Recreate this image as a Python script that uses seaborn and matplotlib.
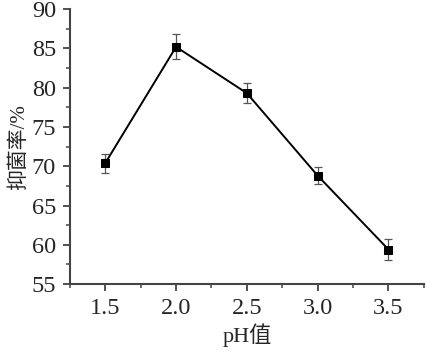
import matplotlib
matplotlib.use('Agg')
import matplotlib.pyplot as plt
import pandas as pd
import seaborn as sns
from matplotlib.ticker import MultipleLocator

ph = [1.5, 2.0, 2.5, 3.0, 3.5]
rate = [70.4, 85.2, 79.3, 68.8, 59.4]
err = [1.2, 1.6, 1.3, 1.1, 1.3]

sns.set_style('ticks')
plt.rcParams['font.family'] = ['Liberation Serif', 'Noto Sans CJK SC']

df = pd.DataFrame({'pH': ph, 'rate': rate, 'err': err})

fig = plt.figure(figsize=(4.26, 3.52), dpi=100)
ax = fig.add_axes([0.164, 0.193, 0.831, 0.781])

ax.errorbar(df['pH'], df['rate'], yerr=df['err'], fmt='none',
            ecolor='#555555', elinewidth=0.9, capsize=3, capthick=0.9)
sns.lineplot(data=df, x='pH', y='rate', ax=ax, color='black', lw=1.4,
             marker='s', markersize=6, markeredgecolor='black')

ax.set_xlim(1.25, 3.75)
ax.set_ylim(55, 90)
ax.xaxis.set_major_locator(MultipleLocator(0.5))
ax.xaxis.set_minor_locator(MultipleLocator(0.25))
ax.yaxis.set_major_locator(MultipleLocator(5))
ax.yaxis.set_minor_locator(MultipleLocator(2.5))
ax.xaxis.set_major_formatter(matplotlib.ticker.FormatStrFormatter('%.1f'))

for s in ['top', 'right']:
    ax.spines[s].set_visible(False)
for s in ['left', 'bottom']:
    ax.spines[s].set_color('#444444')
    ax.spines[s].set_linewidth(1.5)
ax.tick_params(which='major', direction='out', length=5, width=1.3,
               color='#444444', labelsize=17.5, pad=5)
ax.tick_params(which='minor', direction='out', length=3, width=1.1,
               color='#444444')

ax.set_xlabel('pH值', fontsize=16, labelpad=3)
ax.set_ylabel('抑菌率/%', fontsize=15, labelpad=2)

fig.savefig('out.png', dpi=100)
